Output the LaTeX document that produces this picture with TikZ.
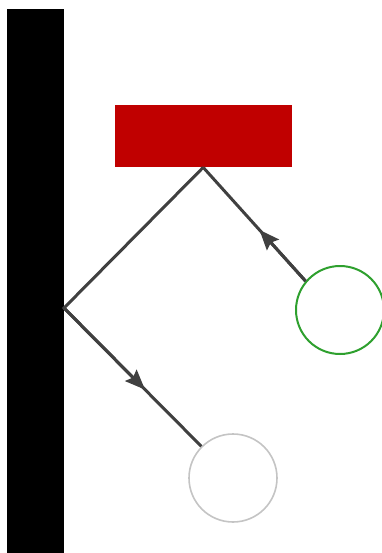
\documentclass[tikz,border=0pt]{standalone}
\usetikzlibrary{arrows.meta,calc}
\definecolor{barred}{HTML}{C00000}
\definecolor{linkgray}{HTML}{404040}
\definecolor{ringgreen}{HTML}{2EA02E}
\definecolor{ringgray}{HTML}{C4C4C4}
\begin{document}
\begin{tikzpicture}[x=1pt,y=-1pt,
  wall/.style={fill=black,draw=none,minimum width=57pt,minimum height=545pt,inner sep=0pt,anchor=north west},
  plate/.style={fill=barred,draw=none,minimum width=177pt,minimum height=62pt,inner sep=0pt,anchor=north west},
  ring/.style={circle,fill=white,line width=2pt,minimum size=88pt,inner sep=0pt},
  link/.style={draw=linkgray,line width=3pt},
  tip/.style={draw=linkgray,fill=linkgray,line width=3pt,-{Stealth[length=20pt,width=16pt,inset=3pt]}}]
  \useasboundingbox (0,0) rectangle (382,553);
  \node[wall] (bar) at (7,9) {};
  \node[plate] (plate) at (114.5,105) {};
  \node[ring,draw=ringgreen] (green) at (340,310) {};
  \node[ring,draw=ringgray,line width=1.6pt] (gray) at (233,478) {};
  \coordinate (hinge) at (64,308);
  \coordinate (apex) at (plate.south);
  \draw[link,line join=miter] (gray.135) -- (hinge) -- (apex);
  \draw[link] (green.140) -- (apex);
  % direction arrows partway along the two links
  \draw[tip] (hinge) -- ($(hinge)!0.59!(gray.135)$);
  \draw[tip] (green.140) -- ($(green.140)!0.45!(apex)$);
\end{tikzpicture}
\end{document}
